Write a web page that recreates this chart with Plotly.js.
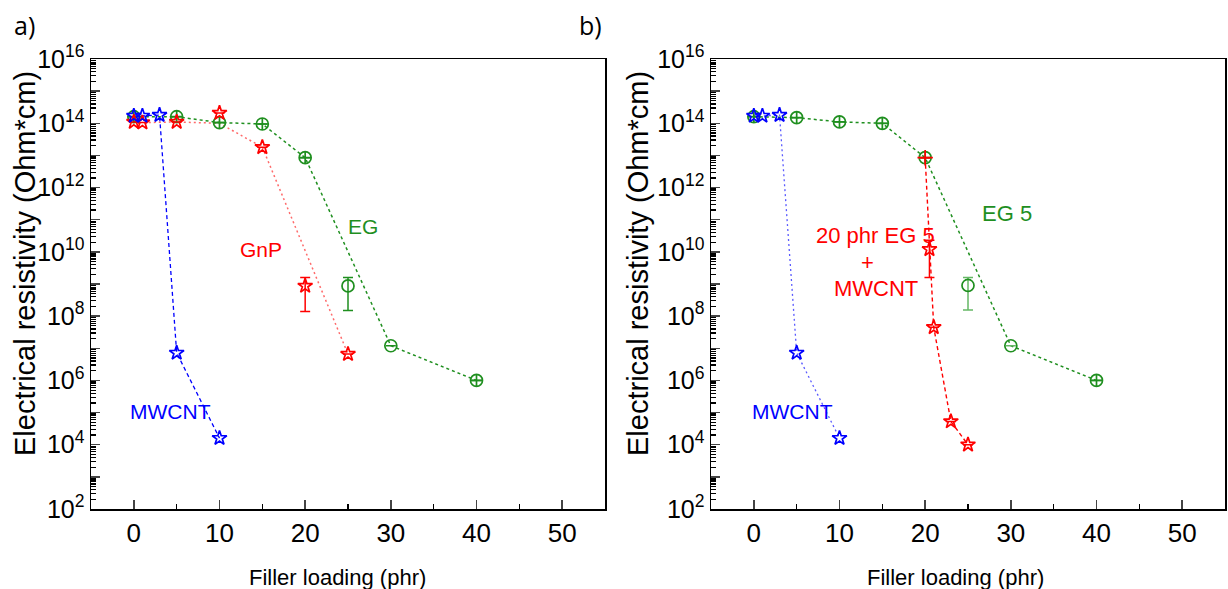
<!DOCTYPE html>
<html><head><meta charset="utf-8">
<script src="https://cdn.plot.ly/plotly-3.0.1.min.js"></script>
<style>html,body{margin:0;padding:0;background:#fff}</style>
</head><body><div id="chart" style="width:1228px;height:589px"></div>
<script>
// ---------- data ----------
const xTicks = [0, 10, 20, 30, 40, 50];
const yTickVals = [1e2,1e3,1e4,1e5,1e6,1e7,1e8,1e9,1e10,1e11,1e12,1e13,1e14,1e15,1e16];
const yTickText = ['10<sup>2</sup>','','10<sup>4</sup>','','10<sup>6</sup>','','10<sup>8</sup>','','10<sup>10</sup>','','10<sup>12</sup>','','10<sup>14</sup>','','10<sup>16</sup>'];

// panel a
const mwcntX = [0, 1, 3, 5, 10];
const mwcntY = [1.7e14, 1.7e14, 1.8e14, 7.2e6, 1.6e4];

const gnpX = [0, 1, 5, 10, 15, 20, 25];
const gnpY = [1.1e14, 1.05e14, 1.1e14, 2.1e14, 1.8e13, 8.7e8, 6.6e6];
const gnpErrPlus  = [0, 0, 0, 0, 0, 7.3e8, 0];
const gnpErrMinus = [0, 0, 0, 0, 0, 7.3e8, 0];
const gnpTrendX = [0, 1, 5, 10, 15, 25];
const gnpTrendY = [1.1e14, 1.05e14, 1.1e14, 1.0e14, 1.8e13, 6.6e6];

const egX = [0, 5, 10, 15, 20, 25, 30, 40];
const egY = [1.6e14, 1.6e14, 1.05e14, 9.5e13, 8.5e12, 8.7e8, 1.2e7, 1.0e6];
const egErrPlus  = [0, 0, 0, 0, 0, 7.3e8, 0, 0];
const egErrMinus = [0, 0, 0, 0, 0, 7.2e8, 0, 0];
const egTrendX = [0, 5, 10, 15, 20, 30, 40];
const egTrendY = [1.6e14, 1.6e14, 1.05e14, 9.5e13, 8.5e12, 1.2e7, 1.0e6];

// panel b
const eg5X = [0, 5, 10, 15, 20, 25, 30, 40];
const eg5Y = [1.6e14, 1.5e14, 1.1e14, 1.0e14, 8.5e12, 9.0e8, 1.2e7, 1.0e6];
const eg5ErrPlus  = [0, 0, 0, 0, 0, 7.0e8, 0, 0];
const eg5ErrMinus = [0, 0, 0, 0, 0, 7.45e8, 0, 0];
const eg5TrendX = [0, 5, 10, 15, 20, 30, 40];
const eg5TrendY = [1.6e14, 1.5e14, 1.1e14, 1.0e14, 8.5e12, 1.2e7, 1.0e6];

const hybX = [20, 20.5, 21, 23, 25];
const hybY = [8.5e12, 1.2e10, 4.5e7, 5.3e4, 1.0e4];
const hybErrPlus  = [0, 1.1e10, 0, 0, 0];
const hybErrMinus = [0, 1.04e10, 0, 0, 0];

// ---------- styling ----------
const BLUE = '#0000ff', RED = '#ff0000', GREEN = '#1f8f1f';
const SANS = "'Liberation Sans',Arial,sans-serif";

function line(x, y, color, dash, xa, ya, w) {
  return {x, y, type:'scatter', mode:'lines', xaxis:xa, yaxis:ya, hoverinfo:'skip',
    line:{color, dash, width:w||1.3}, showlegend:false};
}
function pts(x, y, color, symbol, xa, ya, ep, em, ecolor, size) {
  const t = {x, y, type:'scatter', mode:'markers', xaxis:xa, yaxis:ya, showlegend:false,
    marker:{symbol, size:size||12, color, line:{color, width:1.7}}};
  if (ep) t.error_y = {type:'data', symmetric:false, array:ep, arrayminus:em, color:ecolor||color, thickness:1.5, width:5};
  return t;
}

const egSym = ['circle-cross-open','circle-cross-open','circle-cross-open','circle-cross-open','circle-cross-open','circle-open','circle-open','circle-cross-open'];

const traces = [
  // panel a
  line(egTrendX, egTrendY, GREEN, '3px,3px', 'x', 'y', 1.5),
  line(gnpTrendX, gnpTrendY, '#ff6a6a', '2px,3px', 'x', 'y', 1.5),
  line(mwcntX, mwcntY, BLUE, '4px,3px', 'x', 'y', 1.3),
  pts(egX, egY, GREEN, egSym, 'x', 'y', egErrPlus, egErrMinus),
  pts(gnpX, gnpY, RED, 'star-open', 'x', 'y', gnpErrPlus, gnpErrMinus, null, 11),
  pts(mwcntX, mwcntY, BLUE, 'star-open', 'x', 'y', null, null, null, 11),
  // panel b
  line(eg5TrendX, eg5TrendY, GREEN, '3px,3px', 'x2', 'y2', 1.5),
  line(hybX, hybY, RED, '4px,3px', 'x2', 'y2', 1.4),
  line(mwcntX, mwcntY, '#5a5aff', '2px,3px', 'x2', 'y2', 1.3),
  pts(eg5X, eg5Y, GREEN, egSym, 'x2', 'y2', eg5ErrPlus, eg5ErrMinus, '#66b866'),
  pts(hybX, hybY, RED, ['cross-thin-open','star-open','star-open','star-open','star-open'], 'x2', 'y2', hybErrPlus, hybErrMinus, null, 11),
  pts(mwcntX, mwcntY, BLUE, 'star-open', 'x2', 'y2', null, null, null, 11)
];

const W = 1228, H = 589;
const yDom = [(H-509)/H, (H-59)/H];
function xAxis(dom, anchor) {
  return {domain:dom, anchor, range:[-5,55], tickvals:xTicks, ticks:'inside', ticklen:9, tickwidth:1.5,
    showline:true, linecolor:'#000', linewidth:1.5, mirror:true, showgrid:false, zeroline:false,
    tickfont:{family:SANS, size:26, color:'#000'},
    minor:{dtick:5, tick0:0, ticks:'inside', ticklen:5, tickwidth:1.3, tickcolor:'#000', showgrid:false}};
}
function yAxis(anchor) {
  return {domain:yDom, anchor, type:'log', range:[2,16], tickvals:yTickVals, ticktext:yTickText,
    ticks:'inside', ticklen:9, tickwidth:1.5, showline:true, linecolor:'#000', linewidth:1.5, mirror:true,
    showgrid:false, zeroline:false, tickfont:{family:SANS, size:25, color:'#000'},
    minor:{dtick:'D1', ticks:'inside', ticklen:5, tickwidth:1.2, tickcolor:'#000', showgrid:false}};
}

const annFont = (c, s) => ({family:SANS, size:s||21, color:c});
const A = (o) => Object.assign({showarrow:false, xanchor:'center', yanchor:'middle'}, o);
const annotations = [
  A({text:'a)', xref:'paper', yref:'paper', x:12/W, y:1-25/H, xanchor:'left', font:{family:"'Open Sans',sans-serif", size:25, color:'#000'}}),
  A({text:'b)', xref:'paper', yref:'paper', x:577/W, y:1-25/H, xanchor:'left', font:{family:"'Open Sans',sans-serif", size:25, color:'#000'}}),
  A({text:'Electrical resistivity (Ohm*cm)', xref:'paper', yref:'paper', x:25/W, y:1-264/H, textangle:-90, font:{family:SANS, size:29, color:'#000'}}),
  A({text:'Electrical resistivity (Ohm*cm)', xref:'paper', yref:'paper', x:638/W, y:1-264/H, textangle:-90, font:{family:SANS, size:29, color:'#000'}}),
  A({text:'Filler loading (phr)', xref:'paper', yref:'paper', x:337/W, y:1-577/H, font:annFont('#000', 22)}),
  A({text:'Filler loading (phr)', xref:'paper', yref:'paper', x:955/W, y:1-577/H, font:annFont('#000', 22)}),
  A({text:'GnP', xref:'x', yref:'y', x:14.8, y:10.06, font:annFont(RED)}),
  A({text:'EG', xref:'x', yref:'y', x:26.8, y:10.8, font:annFont(GREEN)}),
  A({text:'MWCNT', xref:'x', yref:'y', x:4.3, y:5.02, font:annFont(BLUE)}),
  A({text:'EG 5', xref:'x2', yref:'y2', x:29.5, y:11.18, font:annFont(GREEN, 22)}),
  A({text:'20 phr EG 5', xref:'x2', yref:'y2', x:14.2, y:10.5, font:annFont(RED, 22)}),
  A({text:'+', xref:'x2', yref:'y2', x:13.3, y:9.68, font:annFont(RED, 22)}),
  A({text:'MWCNT', xref:'x2', yref:'y2', x:14.3, y:8.87, font:annFont(RED, 22)}),
  A({text:'MWCNT', xref:'x2', yref:'y2', x:4.5, y:5.02, font:annFont(BLUE)})
];

const layout = {
  width:W, height:H, margin:{l:0, r:0, t:0, b:0}, paper_bgcolor:'#fff', plot_bgcolor:'#fff',
  showlegend:false,
  xaxis: xAxis([91/W, 605/W], 'y'),
  yaxis: yAxis('x'),
  xaxis2: xAxis([711/W, 1225/W], 'y2'),
  yaxis2: yAxis('x2'),
  annotations
};

Plotly.newPlot('chart', traces, layout, {staticPlot:true, displayModeBar:false});
</script></body></html>
